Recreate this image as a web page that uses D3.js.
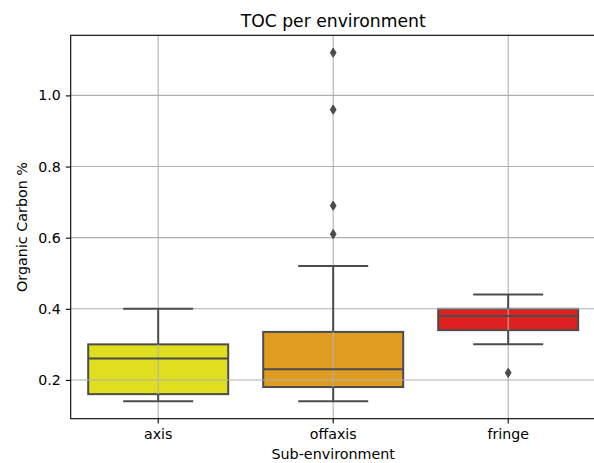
<!DOCTYPE html>
<html>
<head>
<meta charset="utf-8">
<script src="https://cdn.jsdelivr.net/npm/d3@7/dist/d3.min.js"></script>
<style>
  html, body { margin: 0; padding: 0; background: #fff; }
  svg { display: block; font-family: "DejaVu Sans", sans-serif; }
</style>
</head>
<body>
<svg id="chart" width="594" height="463"></svg>
<script>
// Box statistics of total organic carbon per sub-environment
const categories  = ["axis", "offaxis", "fringe"];
const colors      = ["#dfdf20", "#df9c20", "#df2020"];
const q1          = [0.16, 0.18, 0.34];
const medians     = [0.26, 0.23, 0.38];
const q3          = [0.30, 0.335, 0.40];
const whiskerLow  = [0.14, 0.14, 0.30];
const whiskerHigh = [0.40, 0.52, 0.44];
const outliers    = [[], [1.12, 0.96, 0.69, 0.61], [0.22]];
const yTicks      = [0.2, 0.4, 0.6, 0.8, 1.0];

const svg = d3.select("#chart");
const plot = { left: 70.7, top: 35.3, right: 595.7, bottom: 418.7 };
const lineGray = "#4c4c4c";
const tickFont = "14.2px";

const x = d3.scaleBand()
  .domain(categories)
  .range([plot.left, plot.right])
  .paddingInner(0).paddingOuter(0);
const y = d3.scaleLinear()
  .domain([0.091, 1.169])
  .range([plot.bottom, plot.top]);

const bw = x.bandwidth();
const boxW = bw * 0.8;
const capW = boxW / 2;
const cx = c => x(c) + bw / 2;

const g = svg.append("g");

// box bodies (fill + edge)
g.selectAll("rect.box")
  .data(categories)
  .join("rect")
  .attr("x", c => cx(c) - boxW / 2)
  .attr("width", boxW)
  .attr("y", (c, i) => y(q3[i]))
  .attr("height", (c, i) => y(q1[i]) - y(q3[i]))
  .attr("fill", (c, i) => colors[i])
  .attr("stroke", lineGray)
  .attr("stroke-width", 2);

// grid lines sit above the box patches, below the line artists
const grid = svg.append("g");
grid.selectAll("line.hg")
  .data(yTicks)
  .join("line")
  .attr("x1", plot.left).attr("x2", plot.right)
  .attr("y1", d => y(d)).attr("y2", d => y(d))
  .attr("stroke", "#b0b0b0").attr("stroke-width", 1.1);
grid.selectAll("line.vg")
  .data(categories)
  .join("line")
  .attr("x1", c => cx(c)).attr("x2", c => cx(c))
  .attr("y1", plot.top).attr("y2", plot.bottom)
  .attr("stroke", "#b0b0b0").attr("stroke-width", 1.1);

const lines = svg.append("g")
  .attr("stroke", lineGray).attr("stroke-width", 2).attr("fill", "none");

categories.forEach((c, i) => {
  const xc = cx(c);
  // whiskers
  lines.append("line").attr("x1", xc).attr("x2", xc)
    .attr("y1", y(q3[i])).attr("y2", y(whiskerHigh[i]));
  lines.append("line").attr("x1", xc).attr("x2", xc)
    .attr("y1", y(q1[i])).attr("y2", y(whiskerLow[i]));
  // caps
  lines.append("line").attr("x1", xc - capW / 2).attr("x2", xc + capW / 2)
    .attr("y1", y(whiskerHigh[i])).attr("y2", y(whiskerHigh[i]));
  lines.append("line").attr("x1", xc - capW / 2).attr("x2", xc + capW / 2)
    .attr("y1", y(whiskerLow[i])).attr("y2", y(whiskerLow[i]));
  // median
  lines.append("line").attr("x1", xc - boxW / 2).attr("x2", xc + boxW / 2)
    .attr("y1", y(medians[i])).attr("y2", y(medians[i]));
});

// outlier markers (thin diamonds)
const diamond = "M0,-4.6 L2.9,0 L0,4.6 L-2.9,0 Z";
categories.forEach((c, i) => {
  svg.append("g").selectAll("path")
    .data(outliers[i])
    .join("path")
    .attr("d", diamond)
    .attr("transform", d => `translate(${cx(c)},${y(d)})`)
    .attr("fill", lineGray)
    .attr("stroke", lineGray)
    .attr("stroke-width", 1);
});

// axes
const yAxis = d3.axisLeft(y).tickValues(yTicks).tickFormat(d3.format(".1f"))
  .tickSize(4.9).tickPadding(4.9);
const yg = svg.append("g").attr("transform", `translate(${plot.left},0)`).call(yAxis);
const xAxis = d3.axisBottom(x).tickSize(4.9).tickPadding(4.9);
const xg = svg.append("g").attr("transform", `translate(0,${plot.bottom})`).call(xAxis);
[yg, xg].forEach(a => {
  a.select(".domain").remove();
  a.selectAll(".tick line").attr("stroke", "#000").attr("stroke-width", 1.1);
  a.selectAll(".tick text").attr("font-size", tickFont).attr("fill", "#000")
    .attr("font-family", "DejaVu Sans, sans-serif");
});

// spines
svg.append("rect")
  .attr("x", plot.left).attr("y", plot.top)
  .attr("width", plot.right - plot.left).attr("height", plot.bottom - plot.top)
  .attr("fill", "none").attr("stroke", "#000").attr("stroke-width", 1.1);

// labels
svg.append("text")
  .attr("x", (plot.left + plot.right) / 2).attr("y", 26.5)
  .attr("text-anchor", "middle").attr("font-size", "17.2px").attr("fill", "#000")
  .text("TOC per environment");
svg.append("text")
  .attr("x", (plot.left + plot.right) / 2).attr("y", 458.5)
  .attr("text-anchor", "middle").attr("font-size", "14.3px").attr("fill", "#000")
  .text("Sub-environment");
svg.append("text")
  .attr("transform", `translate(27,${(plot.top + plot.bottom) / 2}) rotate(-90)`)
  .attr("text-anchor", "middle").attr("font-size", "14.3px").attr("fill", "#000")
  .text("Organic Carbon %");
</script>
</body>
</html>
